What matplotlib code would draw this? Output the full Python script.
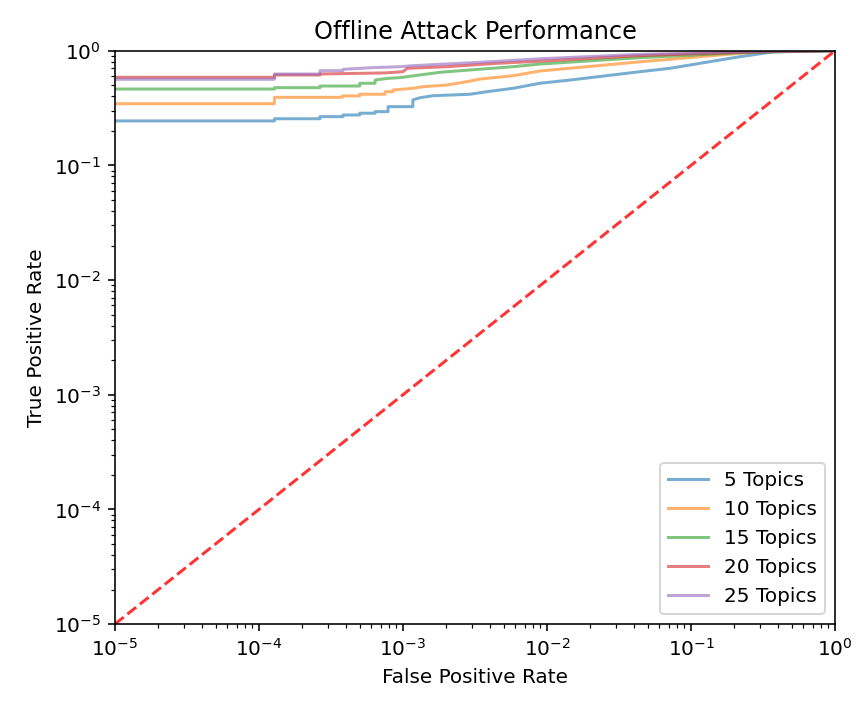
import matplotlib as mpl
mpl.use("Agg")
import matplotlib.pyplot as plt

# ROC points (false positive rate, true positive rate)
fpr_5 = [1e-5, 1.28e-4, 1.28e-4, 2.65e-4, 2.65e-4, 3.83e-4, 3.83e-4, 5.0e-4, 5.0e-4,
         6.4e-4, 6.4e-4, 7.87e-4, 7.87e-4, 1.17e-3, 1.17e-3, 1.31e-3, 1.62e-3, 2.92e-3,
         3.83e-3, 5.81e-3, 8.93e-3, 0.0145, 0.0443, 0.0714, 0.219, 0.286, 0.371, 1.0]
tpr_5 = [0.244, 0.244, 0.255, 0.255, 0.266, 0.266, 0.275, 0.275, 0.285,
         0.285, 0.294, 0.294, 0.325, 0.325, 0.372, 0.389, 0.405, 0.417,
         0.439, 0.47, 0.52, 0.555, 0.656, 0.702, 0.887, 0.93, 0.98, 1.0]

fpr_10 = [1e-5, 1.28e-4, 1.28e-4, 3.8e-4, 3.8e-4, 5.0e-4, 5.0e-4, 7.5e-4, 7.5e-4,
          8.52e-4, 8.52e-4, 1.17e-3, 1.38e-3, 2.02e-3, 2.78e-3, 3.43e-3, 5.81e-3,
          8.93e-3, 0.0443, 0.219, 0.3, 1.0]
tpr_10 = [0.345, 0.345, 0.392, 0.392, 0.403, 0.403, 0.417, 0.417, 0.439,
          0.439, 0.454, 0.47, 0.485, 0.502, 0.537, 0.566, 0.605,
          0.665, 0.80, 0.949, 0.98, 1.0]

fpr_15 = [1e-5, 1.28e-4, 1.28e-4, 2.65e-4, 2.65e-4, 5.0e-4, 5.0e-4, 6.4e-4, 6.4e-4,
          7.87e-4, 9.5e-4, 1.31e-3, 1.81e-3, 2.92e-3, 5.81e-3, 8.93e-3, 0.0443, 0.219, 1.0]
tpr_15 = [0.463, 0.463, 0.476, 0.476, 0.492, 0.492, 0.52, 0.52, 0.555,
          0.574, 0.582, 0.614, 0.648, 0.679, 0.725, 0.765, 0.869, 0.96, 1.0]

fpr_20 = [1e-5, 1.28e-4, 1.28e-4, 2.65e-4, 2.65e-4, 7.5e-4, 1.0e-3, 1.07e-3, 2.02e-3,
          4.5e-3, 8.93e-3, 0.0443, 0.219, 1.0]
tpr_20 = [0.586, 0.586, 0.614, 0.614, 0.626, 0.64, 0.656, 0.702, 0.725,
          0.776, 0.81, 0.905, 0.97, 1.0]

fpr_25 = [1e-5, 1.28e-4, 1.28e-4, 2.65e-4, 2.65e-4, 3.83e-4, 3.83e-4, 6.1e-4, 9.5e-4,
          1.17e-3, 3.43e-3, 8.93e-3, 0.0443, 0.219, 1.0]
tpr_25 = [0.563, 0.563, 0.626, 0.626, 0.669, 0.669, 0.688, 0.711, 0.725,
          0.74, 0.792, 0.85, 0.93, 0.975, 1.0]

series = [
    ("5 Topics", fpr_5, tpr_5),
    ("10 Topics", fpr_10, tpr_10),
    ("15 Topics", fpr_15, tpr_15),
    ("20 Topics", fpr_20, tpr_20),
    ("25 Topics", fpr_25, tpr_25),
]

fig = plt.figure(figsize=(860 / 144, 706 / 144), dpi=144)
ax = fig.add_axes([0.1337, 0.1161, 0.8373, 0.8121])

for label, fpr, tpr in series:
    ax.plot(fpr, tpr, label=label, alpha=0.6)

ax.plot([1e-5, 1], [1e-5, 1], "r--", alpha=0.8)

ax.set_xscale("log")
ax.set_yscale("log")
ax.set_xlim(1e-5, 1)
ax.set_ylim(1e-5, 1)
ax.set_xlabel("False Positive Rate")
ax.set_ylabel("True Positive Rate")
ax.set_title("Offline Attack Performance")
ax.legend(loc="lower right")

fig.savefig("out.png", dpi=144)
